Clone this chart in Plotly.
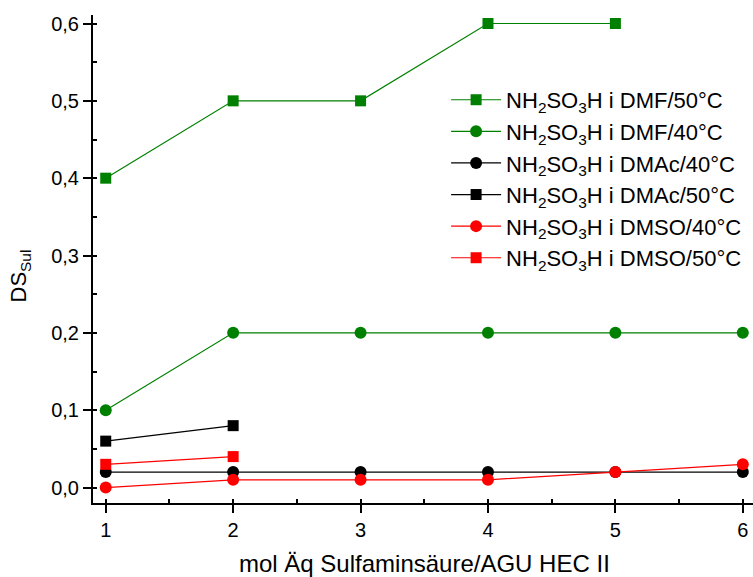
import plotly.graph_objects as go

x_all = [1, 2, 3, 4, 5, 6]
dmf50_x = [1, 2, 3, 4, 5]
dmf50_y = [0.4, 0.5, 0.5, 0.6, 0.6]
dmf40_y = [0.1, 0.2, 0.2, 0.2, 0.2, 0.2]
dmac40_y = [0.02, 0.02, 0.02, 0.02, 0.02, 0.02]
dmac50_x = [1, 2]
dmac50_y = [0.06, 0.08]
dmso40_y = [0.0, 0.01, 0.01, 0.01, 0.02, 0.03]
dmso50_x = [1, 2]
dmso50_y = [0.03, 0.04]

names = [
    "NH<sub>2</sub>SO<sub>3</sub>H i DMF/50°C",
    "NH<sub>2</sub>SO<sub>3</sub>H i DMF/40°C",
    "NH<sub>2</sub>SO<sub>3</sub>H i DMAc/40°C",
    "NH<sub>2</sub>SO<sub>3</sub>H i DMAc/50°C",
    "NH<sub>2</sub>SO<sub>3</sub>H i DMSO/40°C",
    "NH<sub>2</sub>SO<sub>3</sub>H i DMSO/50°C",
]

GREEN = "#008000"
RED = "#FF0000"
BLACK = "#000000"

series = [
    (dmf50_x, dmf50_y, GREEN, "square", 11),
    (x_all, dmf40_y, GREEN, "circle", 12),
    (x_all, dmac40_y, BLACK, "circle", 12),
    (dmac50_x, dmac50_y, BLACK, "square", 11),
    (x_all, dmso40_y, RED, "circle", 12),
    (dmso50_x, dmso50_y, RED, "square", 11),
]

fig = go.Figure()
for i, ((xs, ys, col, sym, sz), nm) in enumerate(zip(series, names)):
    fig.add_trace(go.Scatter(
        x=xs, y=ys, name=nm, mode="lines+markers", legendgroup=f"g{i}",
        line=dict(color=col, width=1.2),
        marker=dict(color=col, symbol=sym, size=sz, line=dict(width=0)),
    ))

font_family = "Arial, Liberation Sans, sans-serif"

fig.update_layout(
    width=753, height=577,
    margin=dict(l=93, r=0, t=15, b=74),
    paper_bgcolor="white", plot_bgcolor="white",
    separators=", ",
    font=dict(family=font_family, size=20, color="black"),
    showlegend=True,
    legend=dict(
        x=0.535, y=0.869, xanchor="left", yanchor="top",
        font=dict(size=22, family=font_family, color="black"),
        bgcolor="rgba(0,0,0,0)", itemwidth=50,
        tracegroupgap=0,
    ),
    xaxis=dict(
        range=[0.9, 6.08], tickmode="array", tickvals=x_all,
        ticktext=[str(v) for v in x_all],
        showline=True, linecolor="black", linewidth=2,
        ticks="outside", ticklen=8, tickwidth=2, tickcolor="black",
        minor=dict(ticks="inside", ticklen=4, tickwidth=1.5, dtick=0.5, tickcolor="black"),
        showgrid=False, zeroline=False, automargin=False,
        tickfont=dict(size=20),
    ),
    yaxis=dict(
        range=[-0.02, 0.611], tickmode="array",
        tickvals=[0.0, 0.1, 0.2, 0.3, 0.4, 0.5, 0.6],
        tickformat=".1f",
        showline=True, linecolor="black", linewidth=2,
        ticks="outside", ticklen=8, tickwidth=2, tickcolor="black",
        minor=dict(ticks="inside", ticklen=4, tickwidth=1.5, dtick=0.05, tickcolor="black"),
        showgrid=False, zeroline=False, automargin=False,
        tickfont=dict(size=20),
    ),
    annotations=[
        dict(
            text="DS<sub>Sul</sub>", xref="paper", yref="paper",
            x=-0.11, y=0.465, textangle=-90, showarrow=False,
            font=dict(size=22, family=font_family, color="black"),
            xanchor="center", yanchor="middle",
        ),
        dict(
            text="mol Äq Sulfaminsäure/AGU HEC II", xref="paper", yref="paper",
            x=0.502, y=-0.123, showarrow=False,
            font=dict(size=24, family=font_family, color="black"),
            xanchor="center", yanchor="middle",
        ),
    ],
)

fig.write_html("out.html")
